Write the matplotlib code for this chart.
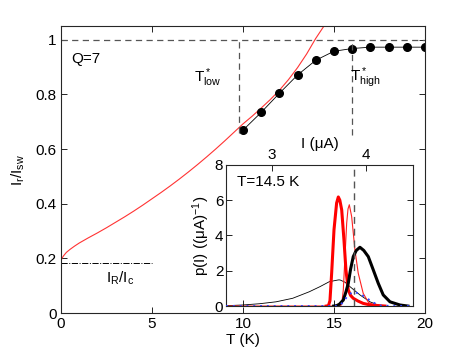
import matplotlib
matplotlib.use('Agg')
import matplotlib.pyplot as plt
import numpy as np

plt.rcParams['font.family'] = ['Liberation Sans', 'DejaVu Sans']
plt.rcParams['mathtext.default'] = 'regular'
plt.rcParams['font.size'] = 10

# main panel data
T_pts = [10, 11, 12, 13, 14, 15, 16, 17, 18, 19, 20]
Ir_pts = [0.669, 0.734, 0.804, 0.871, 0.925, 0.958, 0.968, 0.973, 0.973, 0.973, 0.973]

T_th = [0, 0.05, 0.15, 0.3, 0.5, 0.75, 1, 1.5, 2, 2.5, 3, 3.5, 4, 4.5, 5, 5.5, 6,
        6.5, 7, 7.5, 8, 8.5, 9, 9.5, 10, 10.5, 11, 11.5, 12, 12.5, 13, 13.5, 14, 14.45]
Ir_th = [0.19, 0.2, 0.21, 0.222, 0.233, 0.245, 0.256, 0.275, 0.293, 0.312, 0.332,
         0.352, 0.373, 0.395, 0.418, 0.441, 0.465, 0.49, 0.516, 0.543, 0.571, 0.6,
         0.63, 0.661, 0.692, 0.72, 0.75, 0.781, 0.815, 0.854, 0.898, 0.948, 1.005, 1.05]

IR_Ic = 0.182
T_low = 9.76
T_high = 15.97

# inset data (I in uA)
I_red_thick = [3.58, 3.604, 3.62, 3.638, 3.663, 3.691, 3.709, 3.725, 3.745, 3.769,
               3.79, 3.815, 3.84, 3.868, 3.92, 3.974, 4.05, 4.205]
p_red_thick = [0, 0.02, 0.3, 1.86, 4.32, 5.84, 6.18, 6.0, 5.45, 3.75,
               2.05, 0.91, 0.6, 0.44, 0.28, 0.15, 0.06, 0]

I_red_thin = [2.514, 3.73, 3.745, 3.762, 3.78, 3.798, 3.812, 3.826, 3.851, 3.886, 3.921,
              3.974, 4.03, 4.12]
p_red_thin = [0, 0, 0.1, 0.91, 2.8, 4.7, 5.5, 5.74, 5.07, 3.18, 1.86, 0.72, 0.2, 0]

I_blk_thick = [3.66, 3.69, 3.72, 3.762, 3.79, 3.815, 3.84, 3.868, 3.9, 3.939, 3.98,
               4.028, 4.081, 4.134, 4.187, 4.259, 4.365, 4.45]
p_blk_thick = [0, 0.02, 0.1, 0.34, 0.8, 1.29, 2.1, 2.8, 3.15, 3.33, 3.15,
               2.8, 2.05, 1.29, 0.63, 0.24, 0.06, 0]

I_blk_thin = [2.514, 2.69, 2.868, 3.046, 3.223, 3.40, 3.514, 3.613, 3.709, 3.727, 3.78,
              3.833, 3.939, 4.046, 4.15, 4.2]
p_blk_thin = [0.02, 0.06, 0.13, 0.24, 0.44, 0.81, 1.1, 1.38, 1.48, 1.48, 1.35,
              1.1, 0.63, 0.24, 0.02, 0]

I_blue = [2.514, 3.70, 3.73, 3.762, 3.815, 3.868, 3.921, 3.993, 4.064, 4.15, 4.3, 4.506]
p_blue = [0, 0, 0.05, 0.24, 0.63, 0.81, 0.72, 0.53, 0.24, 0.03, 0, 0]

I_dash = 3.879

axcol = '#262626'
dgray = '#555555'

f = plt.figure(figsize=(4.69, 3.53), dpi=100)
ax1 = f.add_axes([0.130, 0.1133, 0.776, 0.8127])

ax1.plot(T_th, Ir_th, color='#ff3333', lw=0.8)
ax1.plot(T_pts, Ir_pts, color='k', lw=0.6, marker='o', ms=5.5)
ax1.axhline(1, color=dgray, lw=0.9, ls=(0, (5, 3.5)))
ax1.plot([T_low, T_low], [0.66, 1], color=dgray, lw=0.9, ls=(0, (5, 3.5)))
ax1.plot([T_high, T_high], [0.65, 1], color=dgray, lw=0.9, ls=(0, (5, 3.5)))
ax1.plot([0, 5], [IR_Ic, IR_Ic], color='k', lw=0.7, ls='-.')

ax1.set_xlim(0, 20)
ax1.set_ylim(0, 1.05)
ax1.set_xticks([0, 5, 10, 15, 20])
ax1.set_yticks([0, 0.2, 0.4, 0.6, 0.8, 1])
ax1.set_yticklabels(['0', '0.2', '0.4', '0.6', '0.8', '1'])
ax1.tick_params(direction='in', top=True, right=True, length=4, width=0.6,
                labelsize=11, colors='k', pad=3)
for s in ax1.spines.values():
    s.set_color(axcol)
    s.set_linewidth(0.8)
ax1.set_xlabel('T (K)', fontsize=11, labelpad=1)
ax1.set_ylabel(r'I$_{r}$/I$_{sw}$', fontsize=11, labelpad=6)

ax1.text(0.55, 0.929, 'Q=7', fontsize=11, va='center')
ax1.text(3.25, 0.128, r'I$_{R}$/I$_{c}$', fontsize=11, ha='center', va='center')
ax1.text(7.3, 0.86, r'T$^*_{low}$', fontsize=11, va='center')
ax1.text(15.9, 0.86, r'T$^*_{high}$', fontsize=11, va='center')

# inset
ax2 = f.add_axes([0.482, 0.133, 0.399, 0.400])
ax3 = ax2.twiny()
ax2.plot(I_blk_thin, p_blk_thin, color='k', lw=0.6)
ax2.plot(I_red_thin, p_red_thin, color='#ff2020', lw=0.8)
ax2.plot(I_red_thick, p_red_thick, color='#ff0000', lw=2.2)
ax2.plot(I_blk_thick, p_blk_thick, color='k', lw=2.2)
ax2.plot(I_blue, p_blue, color='#3344ff', lw=1.4, ls=(0, (1, 2.5)), zorder=3)
ax2.plot([I_dash, I_dash], [0, 8], color=dgray, lw=1.0, ls=(0, (5, 3.5)))
ax2.set_xlim(2.514, 4.506)
ax2.set_ylim(0, 8)
ax2.set_xticks([3, 4])
ax2.set_yticks([0, 2, 4, 6, 8])
ax2.xaxis.set_ticks_position('top')
ax2.xaxis.set_label_position('top')
ax2.tick_params(direction='in', right=True, length=4, width=0.6,
                labelsize=11, colors='k', pad=2)
ax2.tick_params(axis='x', labeltop=True, labelbottom=False)
ax2.set_xlabel('I (μA)', fontsize=11, labelpad=0)
ax2.set_ylabel(r'p(I) ((μA)$^{-1}$)', fontsize=11, labelpad=2)
ax2.text(0.06, 0.88, 'T=14.5 K', transform=ax2.transAxes, fontsize=11, va='center')
for s in ax2.spines.values():
    s.set_color(axcol)
    s.set_linewidth(0.8)

ax3.set_xlim(9.07, 19.34)
ax3.set_xticks([10, 15])
ax3.xaxis.set_ticks_position('bottom')
ax3.tick_params(direction='in', length=4, width=0.6, labelbottom=False, labeltop=False)
for s in ax3.spines.values():
    s.set_visible(False)

f.savefig('out.png', dpi=100)
